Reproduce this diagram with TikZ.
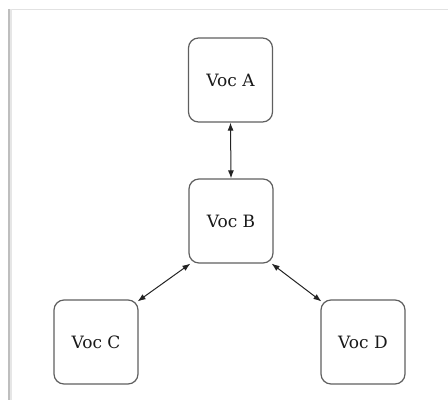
\documentclass[tikz,border=0pt]{standalone}
\usepackage{fontspec}
\setmainfont{DejaVu Serif}
\usetikzlibrary{arrows.meta}
\definecolor{boxline}{RGB}{95,95,95}
\definecolor{linkline}{RGB}{35,35,35}
\definecolor{frametop}{RGB}{226,226,226}
\definecolor{frameleft}{RGB}{190,190,190}
\definecolor{frameshade}{RGB}{230,230,230}
\tikzset{
  vocbox/.style={draw=boxline, line width=1.2pt, rounded corners=10pt,
    minimum width=84pt, minimum height=84pt, inner sep=0pt,
    font=\fontsize{17}{20}\selectfont, text=black!90},
  link/.style={draw=linkline, line width=1pt,
    {Latex[length=8pt,width=6pt]}-{Latex[length=8pt,width=6pt]}}
}
\begin{document}
\begin{tikzpicture}[x=1pt,y=-1pt]
  \useasboundingbox (0,0) rectangle (448,400);
  % page frame
  \draw[frametop, line width=1pt] (8,9) -- (448,9);
  \draw[frameshade, line width=2pt] (11,9) -- (11,400);
  \draw[frameleft, line width=1.5pt] (8.75,9) -- (8.75,400);
  % vocabularies
  \node[vocbox] (A) at (230.5,80) {Voc A};
  \node[vocbox] (B) at (231,221) {Voc B};
  \node[vocbox] (C) at (96,342) {Voc C};
  \node[vocbox] (D) at (363,342) {Voc D};
  % mappings
  \draw[link] (A.south) -- (B.north);
  \draw[link] ([xshift=2pt]B.south west) -- ([xshift=-1pt,yshift=-2pt]C.north east);
  \draw[link] ([xshift=-2pt]B.south east) -- ([xshift=1pt,yshift=-2pt]D.north west);
\end{tikzpicture}
\end{document}
